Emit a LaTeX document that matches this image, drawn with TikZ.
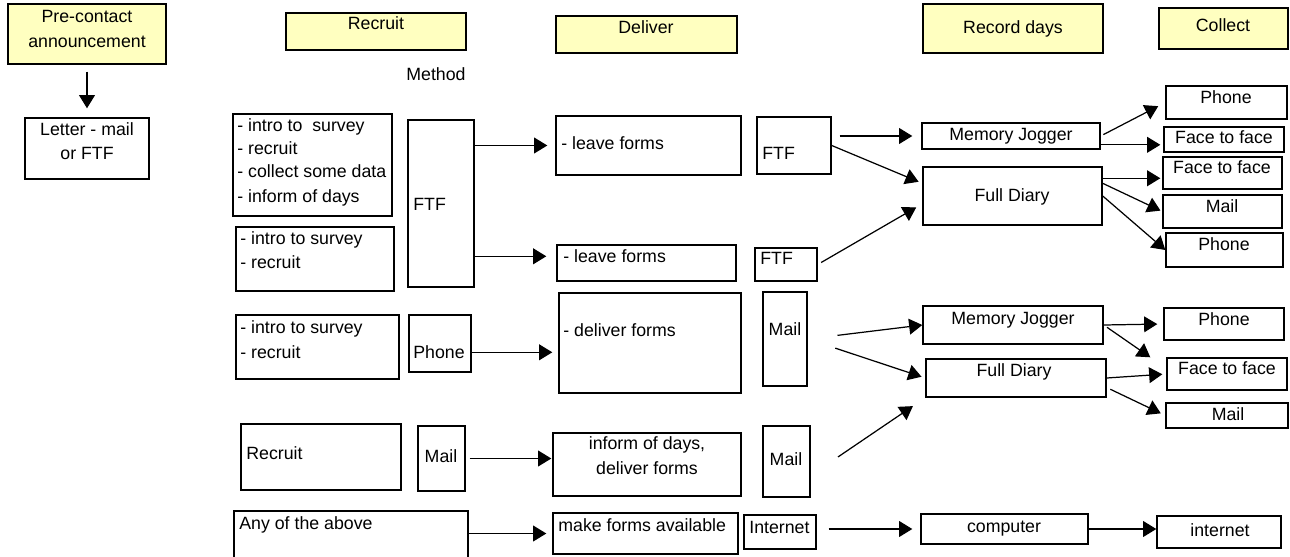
\documentclass[tikz,border=0pt]{standalone}
\usepackage{fontspec}
\setmainfont{Liberation Sans}
\usetikzlibrary{arrows.meta,fit}
\definecolor{headyellow}{HTML}{FFFFC0}

\def\unit{0.02cm}

\begin{document}
\begin{tikzpicture}[%
	x=\unit, y=-\unit,%
	font=\fontsize{10.1}{12}\selectfont,%
	box/.style ={draw, line width=0.8pt, inner sep=0pt},%
	head/.style ={box, fill=headyellow},%
	txt/.style ={inner sep=0pt, anchor=mid},%
	ltxt/.style ={inner sep=0pt, anchor=mid west},%
	arr/.style ={line width=0.7pt, -{Triangle[length=7.5pt,width=9pt]}},%
	]
\useasboundingbox (0,0) rectangle (1290,557);
%%% headers
	\foreach \n/\xa/\ya/\xb/\yb in {pre/8/4/166/64, recruit/286/13/466/50, deliver/556/16/737/53, record/923/4/1103/53, collect/1159/8/1288/49}
		{\node [head, fit={(\xa,\ya) (\xb,\yb)}] (\n) {};}
%%% headers
%%% boxes
	\foreach \n/\xa/\ya/\xb/\yb in {letter/25/118/149/179,%
		introA/233/114/392/216, introB/236/227/394/291, ftfA/408/120/474/287,%
		leaveA/556/116/741/175, leaveB/557/245/736/281, ftfB/757/117/831/174, ftfC/755/248/817/281,%
		mjA/922/123/1100/149, fdA/923/167/1102/225,%
		phA/1166/86/1287/119, faceA/1164/127/1284/152, faceB/1163/157/1282/189, mailA/1163/195/1282/228, phB/1166/233/1283/267,%
		introC/236/315/399/379, phC/409/315/471/372, dlv/559/293/741/393, mailB/763/292/807/386,%
		recB/241/424/401/490, mailC/418/426/465/491, inform/553/433/741/496, mailD/763/426/810/497,%
		any/234/511/468/565, forms/553/513/738/554, inet/744/515/816/549, comp/921/514/1088/544, inetB/1157/516/1281/548,%
		mjB/923/306/1103/344, fdB/926/359/1106/397,%
		phD/1164/308/1284/340, faceC/1167/358/1287/390, mailE/1166/403/1288/428}
		{\node [box, fit={(\xa,\ya) (\xb,\yb)}] (\n) {};}
%%% boxes
%%% centred texts
	\foreach \n/\x/\y/\t in {preT1/87/18/Pre-contact, preT2/87/43/announcement,%
		letterT1/87/131/Letter - mail, letterT2/87/155/or FTF,%
		recruitT/376/25/Recruit, deliverT/646/29/Deliver, recordT/1013/29/Record days, collectT/1223/27/Collect,%
		mjAt/1011/136/Memory Jogger, fdAt/1012/197/Full Diary,%
		phAt/1226/99/Phone, faceAt/1224/139/Face to face, faceBt/1222/169/Face to face, mailAt/1222/208/Mail, phBt/1224/246/Phone,%
		mailBt/785/331/Mail, informT1/647/445/{inform of days,}, informT2/647/470/deliver forms,%
		mailCt/441/458/Mail, mailDt/786/461/Mail, compT/1004/528/computer, inetBt/1220/532/internet,%
		mjBt/1013/320/Memory Jogger, fdBt/1014/372/Full Diary,%
		phDt/1224/321/Phone, faceCt/1227/370/Face to face, mailEt/1228/416/Mail}
		{\node [txt] (\n) at (\x,\y) {\t};}
%%% left texts
	\foreach \n/\x/\y/\t in {methodT/406/76/Method,%
		introAt1/237/127/- intro to~ survey, introAt2/237/150/- recruit, introAt3/237/173/- collect some data, introAt4/237/198/- inform of days,%
		introBt1/240/240/- intro to survey, introBt2/240/264/- recruit, ftfAt/413/206/FTF,%
		leaveAt/561/145/- leave forms, ftfBt/762/155/FTF, leaveBt/563/258/- leave forms, ftfCt/760/260/FTF,%
		introCt1/240/329/- intro to survey, introCt2/240/354/- recruit, phCt/413/354/Phone, dlvT/563/332/- deliver forms,%
		recBt/246/455/Recruit, anyT/239/525/Any of the above, formsT/558/527/make forms available, inetT/749/529/Internet}
		{\node [ltxt] (\n) at (\x,\y) {\t};}
%%% texts
%%% arrows
	\draw [arr, shorten <=0.14cm, shorten >=0.18cm] (pre) -- (letter);
	\draw [arr, shorten >=0.16cm] (ftfA.east |- leaveA) -- (leaveA);
	\draw [arr, shorten >=0.2cm] (ftfA.east |- leaveBt) -- (leaveBt -| leaveB.west);
	\draw [arr, shorten <=0.16cm, shorten >=0.18cm] (ftfB.east |- mjA) -- (mjA);
	\draw [arr, shorten >=0.08cm] (ftfB.east) -- (fdA.172);
	\draw [arr, shorten <=0.08cm, shorten >=0.14cm] (ftfC.east) -- (fdA.185);
	\draw [arr, shorten <=0.06cm, shorten >=0.16cm] (mjA.east) -- (phA.west);
	\draw [arr, shorten >=0.06cm] (mjA.east |- faceA.185) -- (faceA.185);
	\draw [arr, shorten >=0.04cm] (fdA.east |- faceB.185) -- (faceB.185);
	\draw [arr, shorten >=0.04cm] (fdA.8) -- (mailA.west);
	\draw [arr] (fdA.east) -- (phB.west);
	%
	\draw [arr, shorten >=0.12cm] (phC.east |- phCt) -- (phCt -| dlv.west);
	\draw [arr, shorten <=0.08cm, shorten >=0.02cm] (mailC) -- (mailC -| inform.west);
	\draw [arr, shorten >=0.12cm] (forms.west -| any.east) -- (forms.west);
	\draw [arr, shorten <=0.24cm, shorten >=0.16cm] (comp.west -| inet.east) -- (comp.west);
	\draw [arr] (comp.east) -- (comp.east -| inetB.west);
	\draw [arr, shorten <=0.6cm] (mailB.east) -- (mjB.west);
	\draw [arr, shorten <=0.58cm, shorten >=0.08cm] (mailB.east) -- (fdB.west);
	\draw [arr, shorten <=0.66cm, shorten >=0.3cm] (mailD.330) -- (fdB.south west);
	\draw [arr, shorten >=0.12cm] (mjB.east) -- (phD.west);
	\draw [arr, shorten <=0.08cm] (mjB.east) -- ([xshift=-0.32cm]faceC.north west);
	\draw [arr, shorten >=0.08cm] (fdB.east) -- (faceC.west);
	\draw [arr, shorten <=0.08cm, shorten >=0.1cm] (fdB.354) -- (mailE.west);
%%% arrows
\end{tikzpicture}
\end{document}
